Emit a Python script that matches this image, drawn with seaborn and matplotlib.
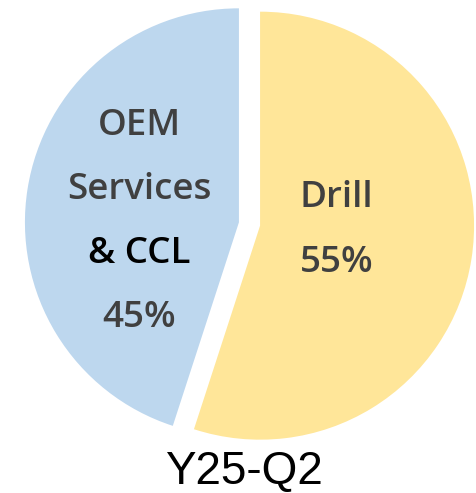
import matplotlib.pyplot as plt
import seaborn as sns

# segment shares for the quarter
segments = ['Drill', 'OEM Services & CCL']
shares = [55, 45]
seg_colors = ['#FFE699', '#BDD7EE']
period = 'Y25-Q2'

sns.set_theme(style='white')
plt.rcParams['font.family'] = ['Open Sans', 'DejaVu Sans']

W, H = 477, 493
fig = plt.figure(figsize=(W / 100, H / 100), dpi=100)

# pie centre / radius in pixels (from top-left)
cx, cy, r = 249.5, 224.0, 214.0
lim = 1.1
side = 2 * lim * r
ax = fig.add_axes([(cx - side / 2) / W, (H - cy - side / 2) / H, side / W, side / H])

ax.pie(shares, colors=seg_colors, explode=[0.05, 0.05], startangle=90,
       counterclock=False, wedgeprops=dict(linewidth=0))
ax.set_xlim(-lim, lim)
ax.set_ylim(-lim, lim)
ax.set_aspect('auto')


def px(x, y):
    return (x - cx) / r, (cy - y) / r


gray = '#404040'
lab_kw = dict(ha='center', va='baseline', fontsize=26.5, fontweight='semibold')
ax.text(*px(336.5, 207), 'Drill', color=gray, **lab_kw)
ax.text(*px(336.5, 272), f'{shares[0]}%', color=gray, **lab_kw)
ax.text(*px(139, 135), 'OEM', color=gray, **lab_kw)
ax.text(*px(139, 199), 'Services', color=gray, **lab_kw)
ax.text(*px(139, 263), '& CCL', color='black', **lab_kw)
ax.text(*px(139, 327), f'{shares[1]}%', color=gray, **lab_kw)

fig.text(244 / W, (H - 484) / H, period, ha='center', va='baseline',
         fontsize=33, color='black', family=['Liberation Sans', 'DejaVu Sans'])

fig.savefig('out.png', dpi=100, facecolor='white')
